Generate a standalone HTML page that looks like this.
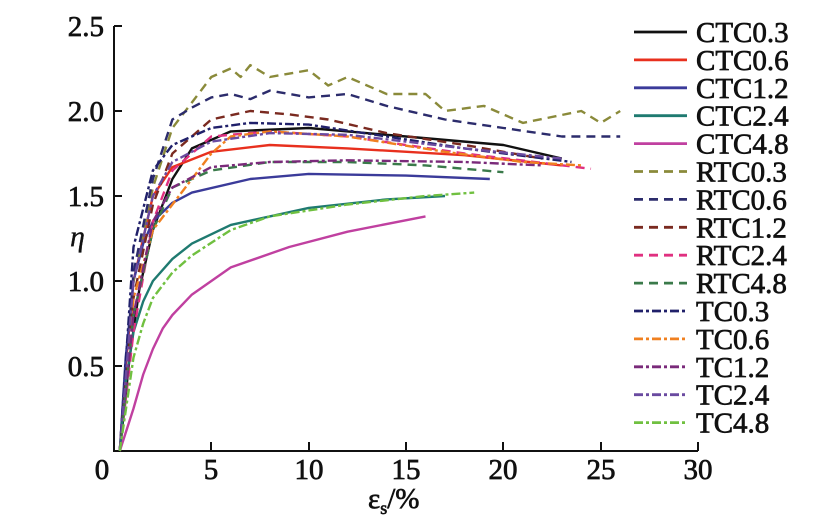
<!DOCTYPE html>
<html><head><meta charset="utf-8"><style>
body{margin:0;background:#fff}
svg{display:block}
text{font-family:"Liberation Serif",serif;fill:#111;stroke:#111;stroke-width:0.7}
</style></head><body>
<svg id="s" width="828" height="524" viewBox="0 0 828 524" xmlns="http://www.w3.org/2000/svg">
<g stroke="#111" stroke-width="2" fill="none">
<path d="M114,26 V451 H698"/>
<path d="M114,26 h8 M114,111 h8 M114,196 h8 M114,281 h8 M114,366 h8"/>
<path d="M211,451 v-9 M309,451 v-9 M406,451 v-9 M503,451 v-9 M601,451 v-9 M698,451 v-9"/>
</g>
<g font-size="29" text-anchor="end">
<text x="104" y="36">2.5</text><text x="104" y="121">2.0</text><text x="104" y="206">1.5</text><text x="104" y="291">1.0</text><text x="104" y="376">0.5</text>
</g>
<g font-size="29" text-anchor="middle">
<text x="102" y="479">0</text><text x="211" y="479">5</text><text x="309" y="479">10</text><text x="406" y="479">15</text><text x="503" y="479">20</text><text x="601" y="479">25</text><text x="698" y="479">30</text>
</g>
<text x="70" y="246" font-size="30" font-style="italic" style="stroke-width:0.3">η</text>
<text x="368" y="508" font-size="29">ε<tspan font-size="18" dy="6">s</tspan><tspan dy="-6">/%</tspan></text>
<g id="curves" fill="none" stroke-width="2.4"></g>
<g id="leg" font-size="29"></g>
</svg>
<script>
var S=[
["CTC0.3","#111","",[[0.3,0],[0.8,0.55],[1.3,0.95],[2,1.3],[3,1.6],[4,1.78],[6,1.88],[10,1.9],[15,1.85],[20,1.8],[23,1.72]]],
["CTC0.6","#e8301e","",[[0.3,0],[0.6,0.5],[1,1.0],[2,1.5],[3,1.67],[5,1.76],[8,1.8],[12,1.78],[18,1.74],[23,1.68]]],
["CTC1.2","#3b3b9a","",[[0.3,0],[0.6,0.55],[1,1.0],[1.5,1.22],[2,1.35],[3,1.46],[4,1.52],[7,1.6],[10,1.63],[15,1.62],[19.3,1.6]]],
["CTC2.4","#1f7a70","",[[0.3,0],[0.6,0.4],[1,0.7],[1.5,0.88],[2,1.0],[3,1.13],[4,1.22],[6,1.33],[10,1.43],[14,1.48],[17,1.5]]],
["CTC4.8","#c040a0","",[[0.3,0],[1,0.25],[1.5,0.45],[2,0.6],[2.5,0.72],[3,0.8],[4,0.92],[6,1.08],[9,1.2],[12,1.29],[16,1.38]]],
["RTC0.3","#8a8a3a","9,6",[[0.3,0],[1,1.0],[2,1.55],[3,1.9],[4,2.05],[5,2.2],[6,2.25],[6.5,2.2],[7,2.27],[8,2.2],[10,2.24],[11,2.15],[12,2.2],[14,2.1],[16,2.1],[17,2.0],[19,2.03],[21,1.93],[24,2.0],[25,1.93],[26,2.0]]],
["RTC0.6","#2c2c6c","9,6",[[0.3,0],[1,1.05],[2,1.6],[3,1.95],[4,2.02],[5,2.08],[6,2.1],[7,2.07],[8,2.12],[10,2.08],[12,2.1],[14,2.03],[17,1.95],[20,1.9],[23,1.85],[26,1.85]]],
["RTC1.2","#7a2a20","9,6",[[0.3,0],[1,0.9],[2,1.45],[3,1.75],[5,1.95],[7,2.0],[9,1.98],[11,1.95],[14,1.87],[18,1.8],[22,1.72]]],
["RTC2.4","#e03080","9,6",[[0.3,0],[1,0.7],[2,1.35],[3,1.65],[5,1.85],[8,1.88],[12,1.85],[18,1.75],[24.5,1.66]]],
["RTC4.8","#3a7a4a","9,6",[[0.3,0],[1,0.8],[2,1.3],[3,1.55],[5,1.65],[8,1.7],[12,1.7],[16,1.68],[20,1.64]]],
["TC0.3","#20206a","9,3,3,3",[[0.3,0],[1,1.2],[2,1.65],[3,1.8],[5,1.9],[7,1.93],[10,1.92],[14,1.85],[18,1.78],[23.5,1.7]]],
["TC0.6","#f08020","9,3,3,3",[[0.3,0],[1,0.9],[2,1.3],[3,1.45],[4,1.6],[5,1.75],[6,1.85],[8,1.88],[12,1.85],[17,1.76],[21,1.7],[24,1.68]]],
["TC1.2","#7a2a7a","9,3,3,3",[[0.3,0],[1,0.8],[2,1.35],[3,1.55],[5,1.67],[8,1.7],[12,1.71],[18,1.7],[22,1.68]]],
["TC2.4","#6a4aa0","9,3,3,3",[[0.3,0],[1,1.0],[2,1.5],[3,1.7],[5,1.82],[8,1.87],[12,1.86],[18,1.78],[23,1.72]]],
["TC4.8","#70c040","9,3,3,3",[[0.3,0],[1,0.55],[1.5,0.75],[2,0.9],[3,1.05],[4,1.15],[6,1.3],[8,1.38],[12,1.45],[16,1.5],[18.5,1.52]]]];
var NS="http://www.w3.org/2000/svg",c=document.getElementById("curves"),l=document.getElementById("leg");
function X(v){return 114+v*19.47}function Y(v){return 451-v*170}
S.forEach(function(s,i){
 var p=document.createElementNS(NS,"path");
 p.setAttribute("d","M"+s[3].map(function(q){return X(q[0]).toFixed(1)+","+Y(q[1]).toFixed(1)}).join(" L"));
 p.setAttribute("stroke",s[1]);p.setAttribute("stroke-linejoin","round");if(s[2])p.setAttribute("stroke-dasharray",s[2]);c.appendChild(p);
 var y=32+i*27.9;
 var ln=document.createElementNS(NS,"path");ln.setAttribute("d","M634,"+y+" H687");ln.setAttribute("stroke",s[1]);ln.setAttribute("stroke-width","2.8");ln.setAttribute("fill","none");
 if(s[2])ln.setAttribute("stroke-dasharray",s[2]);l.appendChild(ln);
 var t=document.createElementNS(NS,"text");t.setAttribute("x","696");t.setAttribute("y",y+10);t.textContent=s[0];l.appendChild(t);
});
</script>
</body></html>
